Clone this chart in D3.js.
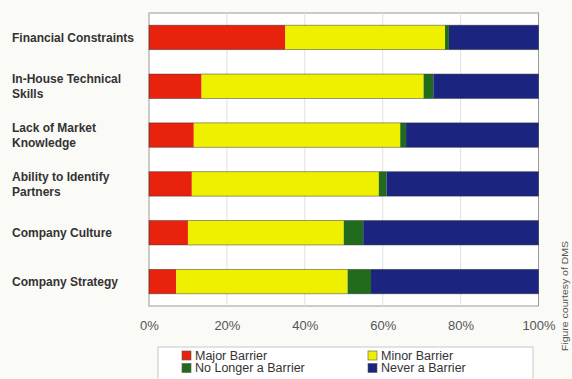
<!DOCTYPE html>
<html><head><meta charset="utf-8">
<script src="https://cdn.jsdelivr.net/npm/d3@7"></script>
<style>
html,body{margin:0;padding:0;background:#fafaf7;}
svg{display:block;}
</style></head>
<body>
<script>
const categories = [
  ["Financial Constraints"],
  ["In-House Technical", "Skills"],
  ["Lack of Market", "Knowledge"],
  ["Ability to Identify", "Partners"],
  ["Company Culture"],
  ["Company Strategy"]
];
const seriesNames = ["Major Barrier", "Minor Barrier", "No Longer a Barrier", "Never a Barrier"];
const major    = [35, 13.5, 11.5, 11, 10, 7];
const minor    = [41, 57, 53, 48, 40, 44];
const noLonger = [1, 2.5, 1.5, 2, 5, 6];
const never    = [23, 27, 34, 39, 45, 43];
const tickValues = [0, 20, 40, 60, 80, 100];
const colors = ["#e8220c", "#eef000", "#236b1c", "#1b2580"];

const W = 572, H = 379;
const svg = d3.select("body").append("svg").attr("width", W).attr("height", H);

const x = d3.scaleLinear().domain([0, 100]).range([149, 538.5]);
const y = d3.scaleBand().domain(d3.range(categories.length)).range([13, 306]).paddingInner(0.5).paddingOuter(0.25);

// plot background
svg.append("rect").attr("x", x(0)).attr("y", 13).attr("width", x(100) - x(0)).attr("height", 293)
  .attr("fill", "#ffffff").attr("stroke", "#9a9a9a").attr("stroke-width", 1);

// gridlines
svg.append("g").selectAll("line").data(tickValues.slice(1, -1)).join("line")
  .attr("x1", d => x(d)).attr("x2", d => x(d)).attr("y1", 13).attr("y2", 306)
  .attr("stroke", "#e0e0e0").attr("stroke-width", 1);

// stacked bars
const data = categories.map((c, i) => ({i, vals: [major[i], minor[i], noLonger[i], never[i]]}));
const rows = svg.append("g").selectAll("g").data(data).join("g");
rows.each(function(d) {
  let acc = 0;
  const segs = d.vals.map((v, k) => { const s = {x0: acc, x1: acc + v, k}; acc += v; return s; });
  d3.select(this).selectAll("rect").data(segs).join("rect")
    .attr("x", s => x(s.x0)).attr("width", s => x(s.x1) - x(s.x0))
    .attr("y", y(d.i)).attr("height", y.bandwidth())
    .attr("fill", s => colors[s.k]);
  d3.select(this).append("rect")
    .attr("x", x(0)).attr("width", x(100) - x(0)).attr("y", y(d.i)).attr("height", y.bandwidth())
    .attr("fill", "none").attr("stroke", "#333").attr("stroke-width", 0.8).attr("stroke-opacity", 0.6);
});

// x axis
const xAxis = d3.axisBottom(x).tickValues(tickValues).tickFormat(d => d + "%").tickSize(0).tickPadding(0);
const gx = svg.append("g").attr("transform", "translate(0,321)").call(xAxis);
gx.select(".domain").remove();
gx.selectAll("text").attr("font-family", "Arial, 'Liberation Sans', sans-serif").attr("font-size", 13)
  .attr("fill", "#555").attr("dy", "0.71em");

// category labels
const lab = svg.append("g");
categories.forEach((lines, i) => {
  const cy = y(i) + y.bandwidth() / 2;
  const lh = 15;
  const t = lab.append("text").attr("x", 12)
    .attr("font-family", "Arial, 'Liberation Sans', sans-serif").attr("font-size", 12)
    .attr("font-weight", "bold").attr("fill", "#333");
  lines.forEach((ln, j) => {
    t.append("tspan").attr("x", 12)
      .attr("y", cy + (j - (lines.length - 1) / 2) * lh).attr("dy", "0.35em").text(ln);
  });
});

// legend
const lg = svg.append("g");
lg.append("rect").attr("x", 158).attr("y", 347).attr("width", 375).attr("height", 40)
  .attr("fill", "#ffffff").attr("stroke", "#c8c8c8").attr("stroke-width", 1);
const legPos = [[182, 355.5], [368, 355.5], [182, 368], [368, 368]];
seriesNames.forEach((n, k) => {
  const [lx, ly] = legPos[k];
  lg.append("rect").attr("x", lx).attr("y", ly - 4.5).attr("width", 9).attr("height", 9)
    .attr("fill", colors[k]).attr("stroke", "#555").attr("stroke-width", 0.6);
  lg.append("text").attr("x", lx + 13).attr("y", ly).attr("dy", "0.33em")
    .attr("font-family", "Arial, 'Liberation Sans', sans-serif").attr("font-size", 12.5)
    .attr("fill", "#333").text(n);
});

// side credit
svg.append("text").attr("transform", "translate(565,296) rotate(-90)")
  .attr("text-anchor", "middle").attr("dy", "0.35em")
  .attr("font-family", "Arial, 'Liberation Sans', sans-serif").attr("font-size", 9)
  .attr("textLength", 110).attr("lengthAdjust", "spacingAndGlyphs")
  .attr("fill", "#555").text("Figure courtesy of DMS");
</script>
</body></html>
